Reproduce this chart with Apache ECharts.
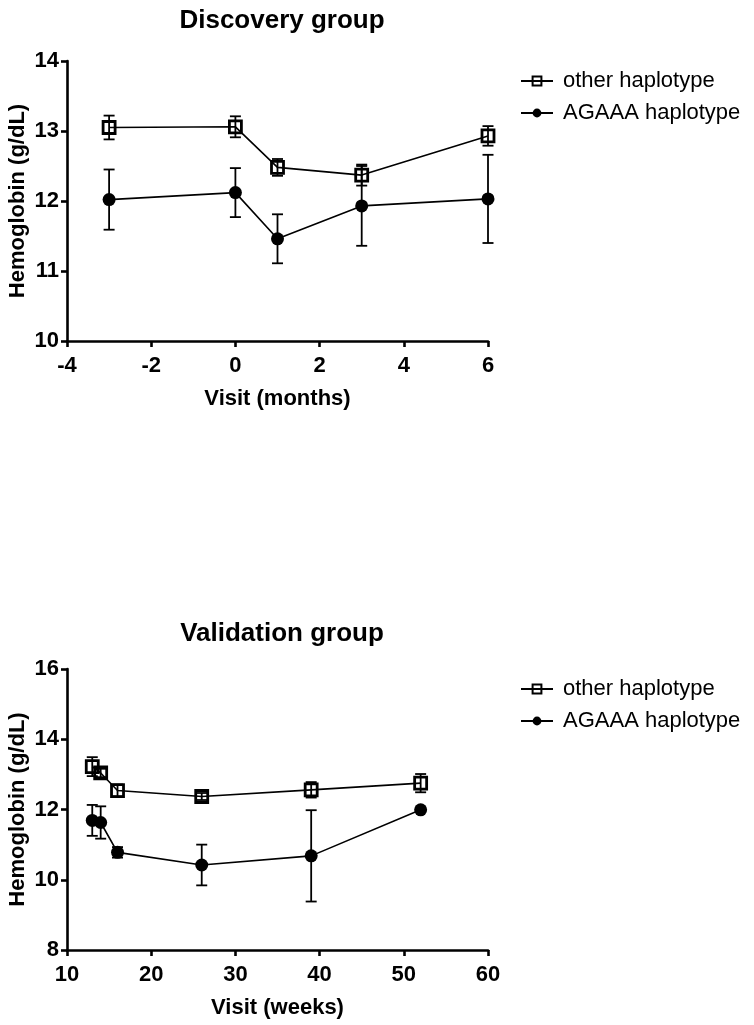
<!DOCTYPE html>
<html>
<head>
<meta charset="utf-8">
<script src="https://cdn.jsdelivr.net/npm/echarts@6/dist/echarts.min.js"></script>
<style>
html,body{margin:0;padding:0;background:#fff;}
#chart{width:754px;height:1025px;}
</style>
</head>
<body>
<div id="chart"></div>
<script>
// ---- Data ----
const titles = ['Discovery group', 'Validation group'];
const seriesNames = ['other haplotype', 'AGAAA haplotype'];
const xTitles = ['Visit (months)', 'Visit (weeks)'];
const yTitle = 'Hemoglobin (g/dL)';

const discX = [-3, 0, 1, 3, 6];
const discOther = [13.05, 13.06, 12.48, 12.37, 12.93];
const discOtherErr = [0.17, 0.15, 0.12, 0.15, 0.14];
const discAgaaa = [12.02, 12.12, 11.46, 11.93, 12.03];
const discAgaaaErr = [0.43, 0.35, 0.35, 0.57, 0.63];

const valX = [13, 14, 16, 26, 39, 52];
const valOther = [13.22, 13.04, 12.54, 12.37, 12.56, 12.75];
const valOtherErr = [0.27, 0.12, 0.17, 0.10, 0.22, 0.26];
const valAgaaa = [11.69, 11.63, 10.78, 10.42, 10.68, 11.99];
const valAgaaaErr = [0.44, 0.46, 0.15, 0.58, 1.30, 0];

// ---- Helpers ----
const FONT = 'Liberation Sans';
const pts = (xs, ys) => xs.map((x, i) => [x, ys[i]]);
const errs = (xs, ys, es) => xs.map((x, i) => [x, ys[i] - es[i], ys[i] + es[i]]);

function errRender(params, api) {
  const x = api.value(0), lo = api.value(1), hi = api.value(2);
  if (hi === lo) return null;
  const t = api.coord([x, hi]);
  const b = api.coord([x, lo]);
  const hw = 5.5;
  const st = { stroke: '#000', lineWidth: 1.8 };
  return {
    type: 'group',
    children: [
      { type: 'line', shape: { x1: t[0], y1: t[1], x2: b[0], y2: b[1] }, style: st },
      { type: 'line', shape: { x1: t[0] - hw, y1: t[1], x2: t[0] + hw, y2: t[1] }, style: st },
      { type: 'line', shape: { x1: b[0] - hw, y1: b[1], x2: b[0] + hw, y2: b[1] }, style: st }
    ]
  };
}

function errSeries(idx, data) {
  return {
    type: 'custom', xAxisIndex: idx, yAxisIndex: idx,
    renderItem: errRender, data: data, z: 1,
    encode: { x: 0, y: [1, 2] }, silent: true
  };
}

function lineSeries(idx, name, data, square) {
  return {
    type: 'line', name: name, xAxisIndex: idx, yAxisIndex: idx, data: data, z: 3,
    symbol: square ? 'rect' : 'circle',
    symbolSize: square ? 12 : 13,
    showSymbol: true,
    lineStyle: { color: '#000', width: 1.6 },
    itemStyle: square
      ? { color: 'rgba(255,255,255,0)', borderColor: '#000', borderWidth: 2.8 }
      : { color: '#000', borderColor: '#000', borderWidth: 0 },
    emphasis: { disabled: true },
    animation: false
  };
}

const axisCommon = {
  axisLine: { onZero: false, lineStyle: { color: '#000', width: 2.6 } },
  axisTick: { show: true, length: 6, lineStyle: { color: '#000', width: 2.6 } },
  splitLine: { show: false },
  axisLabel: { color: '#000', fontFamily: FONT, fontWeight: 'bold', fontSize: 22 },
  nameTextStyle: { color: '#000', fontFamily: FONT, fontWeight: 'bold', fontSize: 22 },
  nameMoveOverlap: false
};

function xAx(idx, min, max, interval, name) {
  return Object.assign({}, axisCommon, {
    type: 'value', gridIndex: idx, min: min, max: max, interval: interval,
    name: name, nameLocation: 'middle', nameGap: 47,
    axisLabel: Object.assign({}, axisCommon.axisLabel, { margin: 14 })
  });
}
function yAx(idx, min, max, interval) {
  return Object.assign({}, axisCommon, {
    type: 'value', gridIndex: idx, min: min, max: max, interval: interval,
    name: yTitle, nameLocation: 'middle', nameGap: 38, nameRotate: 90,
    axisLabel: Object.assign({}, axisCommon.axisLabel, { margin: 8 })
  });
}

const legendCommon = {
  orient: 'vertical', left: 515, data: seriesNames,
  itemWidth: 32, itemHeight: 11, itemGap: 10,
  textStyle: { color: '#000', fontFamily: FONT, fontSize: 22, padding: [0, 0, 0, 5] },
  selectedMode: false
};

const gridCommon = { containLabel: false, outerBoundsMode: 'none' };

const option = {
  backgroundColor: '#fff',
  animation: false,
  title: [
    { text: titles[0], left: 277, top: 3, textAlign: 'center',
      textStyle: { color: '#000', fontFamily: FONT, fontWeight: 'bold', fontSize: 26 } },
    { text: titles[1], left: 277, top: 616, textAlign: 'center',
      textStyle: { color: '#000', fontFamily: FONT, fontWeight: 'bold', fontSize: 26 } }
  ],
  legend: [
    Object.assign({}, legendCommon, { top: 65 }),
    Object.assign({}, legendCommon, { top: 673 })
  ],
  grid: [
    Object.assign({ left: 67, top: 61, width: 421, height: 280 }, gridCommon),
    Object.assign({ left: 67, top: 669, width: 421, height: 281 }, gridCommon)
  ],
  xAxis: [xAx(0, -4, 6, 2, xTitles[0]), xAx(1, 10, 60, 10, xTitles[1])],
  yAxis: [yAx(0, 10, 14, 1), yAx(1, 8, 16, 2)],
  series: [
    errSeries(0, errs(discX, discOther, discOtherErr)),
    errSeries(0, errs(discX, discAgaaa, discAgaaaErr)),
    lineSeries(0, seriesNames[0], pts(discX, discOther), true),
    lineSeries(0, seriesNames[1], pts(discX, discAgaaa), false),
    errSeries(1, errs(valX, valOther, valOtherErr)),
    errSeries(1, errs(valX, valAgaaa, valAgaaaErr)),
    lineSeries(1, seriesNames[0], pts(valX, valOther), true),
    lineSeries(1, seriesNames[1], pts(valX, valAgaaa), false)
  ]
};

const chart = echarts.init(document.getElementById('chart'), null, { renderer: 'canvas' });
chart.setOption(option);
</script>
</body>
</html>
